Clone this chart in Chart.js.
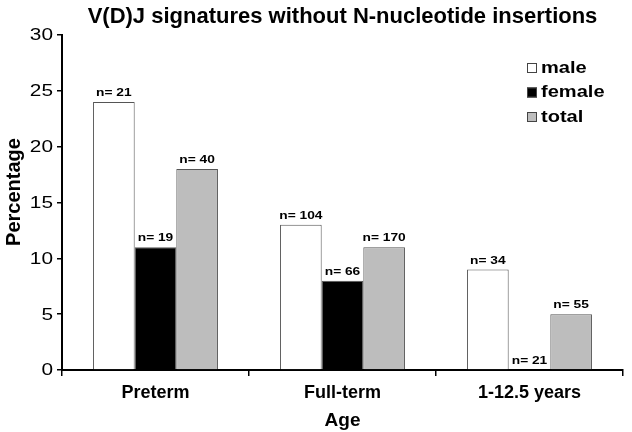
<!DOCTYPE html>
<html>
<head>
<meta charset="utf-8">
<script src="https://cdn.jsdelivr.net/npm/chart.js@4"></script>
<style>
  html, body { margin: 0; padding: 0; background: #fff; }
  #wrap { width: 632px; height: 432px; }
</style>
</head>
<body>
<div id="wrap"><canvas id="vdjChart" width="632" height="432"></canvas></div>
<script>
// chart data
const categories = ["Preterm", "Full-term", "1-12.5 years"];
const seriesNames = ["male", "female", "total"];
const maleValues = [24, 13, 9];
const femaleValues = [11, 8, 0];
const totalValues = [18, 11, 5];
// sample sizes printed above the bars
const maleN = [21, 104, 34];
const femaleN = [19, 66, 21];
const totalN = [40, 170, 55];
const yTicks = [0, 5, 10, 15, 20, 25, 30];

const FONT = "'Liberation Sans', Arial, Helvetica, sans-serif";
const sampleSizes = [maleN, femaleN, totalN];

// wide text, the original figure is a bit stretched sideways
function wideText(ctx, text, x, y, sx) {
    ctx.save();
    ctx.translate(x, y);
    ctx.scale(sx, 1);
    ctx.fillText(text, 0, 0);
    ctx.restore();
}

// title, y labels, n= labels and legend drawn on the canvas
const extrasPlugin = {
    id: "extras",
    afterDraw(chart) {
        const ctx = chart.ctx;
        const area = chart.chartArea;
        const yScale = chart.scales.y;
        ctx.save();
        ctx.fillStyle = "#000";

        // title
        ctx.font = "bold 22px " + FONT;
        ctx.textAlign = "center";
        ctx.textBaseline = "middle";
        ctx.fillText("V(D)J signatures without N-nucleotide insertions", (area.left + area.right) / 2, 17);

        // y tick labels
        ctx.font = "16px " + FONT;
        ctx.textAlign = "right";
        yScale.ticks.forEach(t => {
            wideText(ctx, String(t.value), 53, yScale.getPixelForValue(t.value) + 1, 1.3);
        });

        // y axis title
        ctx.save();
        ctx.translate(14, 192);
        ctx.rotate(-Math.PI / 2);
        ctx.textAlign = "center";
        ctx.font = "bold 20px " + FONT;
        ctx.fillText("Percentage", 0, 0);
        ctx.restore();

        // n= labels above each bar
        ctx.font = "bold 11px " + FONT;
        ctx.textAlign = "center";
        ctx.textBaseline = "alphabetic";
        chart.data.datasets.forEach((ds, i) => {
            chart.getDatasetMeta(i).data.forEach((bar, j) => {
                wideText(ctx, "n= " + sampleSizes[i][j], bar.x, bar.y - 6, 1.25);
            });
        });

        // legend
        ctx.textAlign = "left";
        ctx.textBaseline = "middle";
        ctx.font = "bold 17px " + FONT;
        chart.data.datasets.forEach((ds, i) => {
            const y = 68 + i * 24.5;
            ctx.fillStyle = ds.backgroundColor;
            ctx.fillRect(527, y - 5, 10, 10);
            ctx.strokeStyle = "#444";
            ctx.lineWidth = 1;
            ctx.strokeRect(527.5, y - 4.5, 9, 9);
            ctx.fillStyle = "#000";
            wideText(ctx, ds.label, 541, y, 1.18);
        });
        ctx.restore();
    }
};

new Chart(document.getElementById("vdjChart"), {
    type: "bar",
    data: {
        labels: categories,
        datasets: [
            {
                label: seriesNames[0],
                data: maleValues,
                backgroundColor: "#ffffff",
                borderColor: "#555555",
                borderWidth: 1
            },
            {
                label: seriesNames[1],
                data: femaleValues,
                backgroundColor: "#000000",
                borderColor: "#555555",
                borderWidth: 1
            },
            {
                label: seriesNames[2],
                data: totalValues,
                backgroundColor: "#bdbdbd",
                borderColor: "#555555",
                borderWidth: 1
            }
        ]
    },
    options: {
        responsive: false,
        animation: false,
        devicePixelRatio: 1,
        layout: { padding: { top: 35, right: 9, bottom: 0, left: 0 } },
        datasets: {
            bar: { categoryPercentage: 0.668, barPercentage: 1.0 }
        },
        plugins: {
            legend: { display: false },
            title: { display: false },
            tooltip: { enabled: false }
        },
        scales: {
            x: {
                afterFit: (scale) => { scale.height = 62; },
                grid: {
                    drawOnChartArea: false,
                    drawTicks: true,
                    tickLength: 6,
                    color: "#000",
                    lineWidth: 1.5
                },
                border: { color: "#000", width: 2 },
                ticks: {
                    padding: 6,
                    color: "#000",
                    font: { family: FONT, size: 18, weight: "bold" }
                },
                title: {
                    display: true,
                    text: "Age",
                    color: "#000",
                    padding: { top: 0, bottom: 0 },
                    font: { family: FONT, size: 19, weight: "bold" }
                }
            },
            y: {
                min: 0,
                max: 30,
                afterFit: (scale) => { scale.width = 62; },
                afterBuildTicks: (scale) => {
                    scale.ticks = yTicks.map(v => ({ value: v }));
                },
                grid: {
                    drawOnChartArea: false,
                    drawTicks: true,
                    tickLength: 5,
                    color: "#000",
                    lineWidth: 1.5
                },
                border: { color: "#000", width: 2 },
                ticks: { display: false }
            }
        }
    },
    plugins: [extrasPlugin]
});
</script>
</body>
</html>
